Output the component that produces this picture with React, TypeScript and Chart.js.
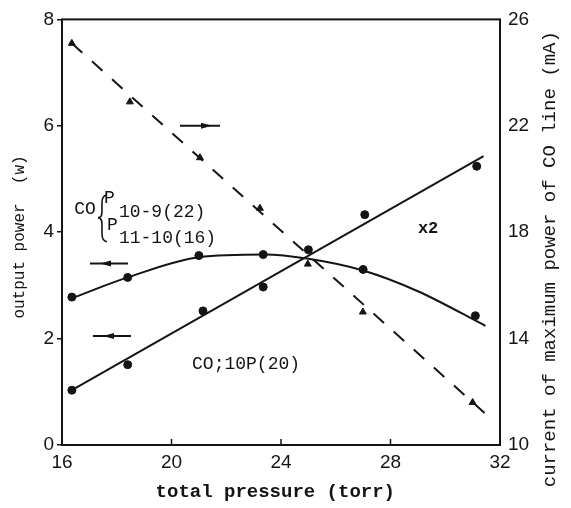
import { useEffect, useRef } from "react";
import { Chart, registerables } from "chart.js";

Chart.register(...registerables);

// x: total pressure (torr)
const xTicks = [16, 20, 24, 28, 32];
const leftTicks = [0, 2, 4, 6, 8];
const rightTicks = [10, 14, 18, 22, 26];

// Dashed fit: current of maximum power of CO line (mA), right axis
const currentFitX = [16.36, 31.44];
const currentFitY = [25.1, 11.2];
// Triangle data points (right axis)
const currentX = [16.36, 18.48, 21.04, 23.23, 24.98, 26.99, 31.0];
const currentY = [25.1, 22.9, 20.8, 18.9, 16.8, 15.0, 11.6];

// CO P10-9(22)/P11-10(16) output power curve (left axis)
const pCurveX = [16.36, 18.4, 21.0, 23.4, 25.0, 27.0, 29.0, 31.47];
const pCurveY = [2.76, 3.15, 3.53, 3.58, 3.5, 3.28, 2.89, 2.24];
const pPointX = [16.36, 18.4, 21.0, 23.35, 27.0, 31.1];
const pPointY = [2.78, 3.15, 3.56, 3.58, 3.3, 2.43];

// CO;10P(20) output power (left axis, x2)
const coFitX = [16.36, 31.4];
const coFitY = [1.03, 5.43];
const coPointX = [16.36, 18.4, 21.15, 23.35, 25.0, 27.06, 31.15];
const coPointY = [1.03, 1.51, 2.52, 2.97, 3.67, 4.33, 5.24];

const rightTitle = "current of maximum power of CO line (mA)";

const INK = "#141414";

const pts = (xs: number[], ys: number[]) => xs.map((x, i) => ({ x, y: ys[i] }));

const annotationPlugin = {
  id: "annotations",
  beforeDraw(chart: any) {
    const { ctx, width, height } = chart;
    ctx.save();
    ctx.fillStyle = "#ffffff";
    ctx.fillRect(0, 0, width, height);
    ctx.restore();
  },
  afterDraw(chart: any) {
    const { ctx, chartArea } = chart;
    const r = chart.scales.y1;
    ctx.save();
    ctx.fillStyle = INK;
    ctx.font = "19px 'Liberation Mono', monospace";
    ctx.textAlign = "center";
    ctx.textBaseline = "middle";
    ctx.translate(r.right - 21, (chartArea.top + chartArea.bottom) / 2 + 27);
    ctx.rotate(-Math.PI / 2);
    ctx.fillText(rightTitle, 0, 0);
    ctx.restore();
  },
  afterDatasetsDraw(chart: any) {
    const { ctx, chartArea } = chart;
    const xs = chart.scales.x;
    const ys = chart.scales.y;
    const X = (v: number) => xs.getPixelForValue(v);
    const Y = (v: number) => ys.getPixelForValue(v);
    ctx.save();
    // frame
    ctx.strokeStyle = INK;
    ctx.lineWidth = 2;
    ctx.strokeRect(chartArea.left, chartArea.top, chartArea.right - chartArea.left, chartArea.bottom - chartArea.top);
    // inward bottom ticks
    ctx.lineWidth = 1.5;
    [20, 24, 28].forEach((t) => {
      ctx.beginPath();
      ctx.moveTo(X(t), chartArea.bottom);
      ctx.lineTo(X(t), chartArea.bottom - 6);
      ctx.stroke();
    });

    // text labels
    ctx.fillStyle = INK;
    ctx.textBaseline = "middle";
    ctx.textAlign = "left";
    ctx.font = "18px 'Liberation Mono', monospace";
    ctx.fillText("CO", X(16.45), Y(4.44));
    ctx.fillText("P", X(17.53), Y(4.63));
    ctx.fillText("10-9(22)", X(18.08), Y(4.38));
    ctx.fillText("P", X(17.64), Y(4.14));
    ctx.fillText("11-10(16)", X(18.08), Y(3.88));
    // brace
    const bx = X(17.46);
    const by = Y(4.27);
    ctx.lineWidth = 1.6;
    ctx.beginPath();
    ctx.moveTo(bx + 5, by - 23);
    ctx.quadraticCurveTo(bx, by - 22, bx, by - 15);
    ctx.lineTo(bx, by - 6);
    ctx.quadraticCurveTo(bx, by, bx - 4, by);
    ctx.quadraticCurveTo(bx, by, bx, by + 6);
    ctx.lineTo(bx, by + 16);
    ctx.quadraticCurveTo(bx, by + 23, bx + 5, by + 24);
    ctx.stroke();

    ctx.font = "18px 'Liberation Mono', monospace";
    ctx.fillText("CO;10P(20)", X(20.75), Y(1.51));
    ctx.font = "bold 17px 'Liberation Mono', monospace";
    ctx.fillText("x2", X(29.0), Y(4.07));

    // arrows
    const arrow = (x1: number, x2: number, tip: number, y: number, dir: number) => {
      const py = Y(y);
      ctx.lineWidth = 2;
      ctx.beginPath();
      ctx.moveTo(X(x1), py);
      ctx.lineTo(X(x2), py);
      ctx.stroke();
      const tx = X(tip);
      ctx.beginPath();
      ctx.moveTo(tx, py);
      ctx.lineTo(tx - dir * 11, py - 3);
      ctx.lineTo(tx - dir * 11, py + 3);
      ctx.closePath();
      ctx.fill();
    };
    arrow(20.31, 21.77, 21.48, 6.0, 1);
    arrow(17.02, 18.41, 17.39, 3.41, -1);
    arrow(17.13, 18.52, 17.5, 2.05, -1);
    ctx.restore();
  },
};

export default function App() {
  const canvasRef = useRef<HTMLCanvasElement | null>(null);

  useEffect(() => {
    if (!canvasRef.current) return;
    const tickFont = { family: "'Liberation Sans', sans-serif", size: 19 };
    const chart = new Chart(canvasRef.current, {
      type: "scatter",
      data: {
        datasets: [
          {
            data: pts(currentFitX, currentFitY),
            yAxisID: "y1",
            showLine: true,
            borderColor: INK,
            borderWidth: 2,
            borderDash: [14, 13],
            pointRadius: 0,
          },
          {
            data: pts(currentX, currentY),
            yAxisID: "y1",
            showLine: false,
            pointStyle: "triangle",
            pointRadius: 4,
            backgroundColor: INK,
            borderColor: INK,
          },
          {
            data: pts(pCurveX, pCurveY),
            yAxisID: "y",
            showLine: true,
            cubicInterpolationMode: "monotone",
            borderColor: INK,
            borderWidth: 2,
            pointRadius: 0,
          },
          {
            data: pts(pPointX, pPointY),
            yAxisID: "y",
            showLine: false,
            pointStyle: "circle",
            pointRadius: 4,
            backgroundColor: INK,
            borderColor: INK,
          },
          {
            data: pts(coFitX, coFitY),
            yAxisID: "y",
            showLine: true,
            borderColor: INK,
            borderWidth: 2,
            pointRadius: 0,
          },
          {
            data: pts(coPointX, coPointY),
            yAxisID: "y",
            showLine: false,
            pointStyle: "circle",
            pointRadius: 4,
            backgroundColor: INK,
            borderColor: INK,
          },
        ],
      },
      options: {
        responsive: false,
        animation: false,
        devicePixelRatio: 1,
        layout: { padding: { top: 16, left: 0, right: 0, bottom: 0 } },
        plugins: { legend: { display: false }, tooltip: { enabled: false } },
        scales: {
          x: {
            type: "linear",
            min: xTicks[0],
            max: xTicks[xTicks.length - 1],
            afterBuildTicks: (s: any) => { s.ticks = xTicks.map((v) => ({ value: v })); },
            ticks: { font: tickFont, color: INK, padding: 6 },
            grid: { display: false, drawTicks: false },
            border: { display: false },
            title: {
              display: true,
              text: "total pressure (torr) ",
              font: { family: "'Liberation Mono', monospace", size: 19, weight: "bold" },
              color: INK,
              padding: { top: 0, bottom: 4 },
            },
            afterFit: (s: any) => { s.height = 63; },
          },
          y: {
            type: "linear",
            position: "left",
            min: leftTicks[0],
            max: leftTicks[leftTicks.length - 1],
            afterBuildTicks: (s: any) => { s.ticks = leftTicks.map((v) => ({ value: v })); },
            ticks: { font: tickFont, color: INK, padding: 3 },
            grid: { drawOnChartArea: false, drawTicks: true, tickLength: 5, color: INK, lineWidth: 1.5 },
            border: { display: false },
            title: {
              display: true,
              text: "output power  (w) ",
              font: { family: "'Liberation Mono', monospace", size: 16 },
              color: INK,
              padding: { top: 10, bottom: 0 },
            },
            afterFit: (s: any) => { s.width = 62; },
          },
          y1: {
            type: "linear",
            position: "right",
            min: rightTicks[0],
            max: rightTicks[rightTicks.length - 1],
            afterBuildTicks: (s: any) => { s.ticks = rightTicks.map((v) => ({ value: v })); },
            ticks: { font: tickFont, color: INK, padding: 8 },
            grid: { display: false, drawTicks: false },
            border: { display: false },
            title: { display: false },
            afterFit: (s: any) => { s.width = 71; },
          },
        },
      },
      plugins: [annotationPlugin],
    } as any);
    return () => chart.destroy();
  }, []);

  return (
    <div style={{ position: "absolute", left: 0, top: 0, width: 571, height: 508 }}>
      <canvas ref={canvasRef} width={571} height={508} />
    </div>
  );
}
